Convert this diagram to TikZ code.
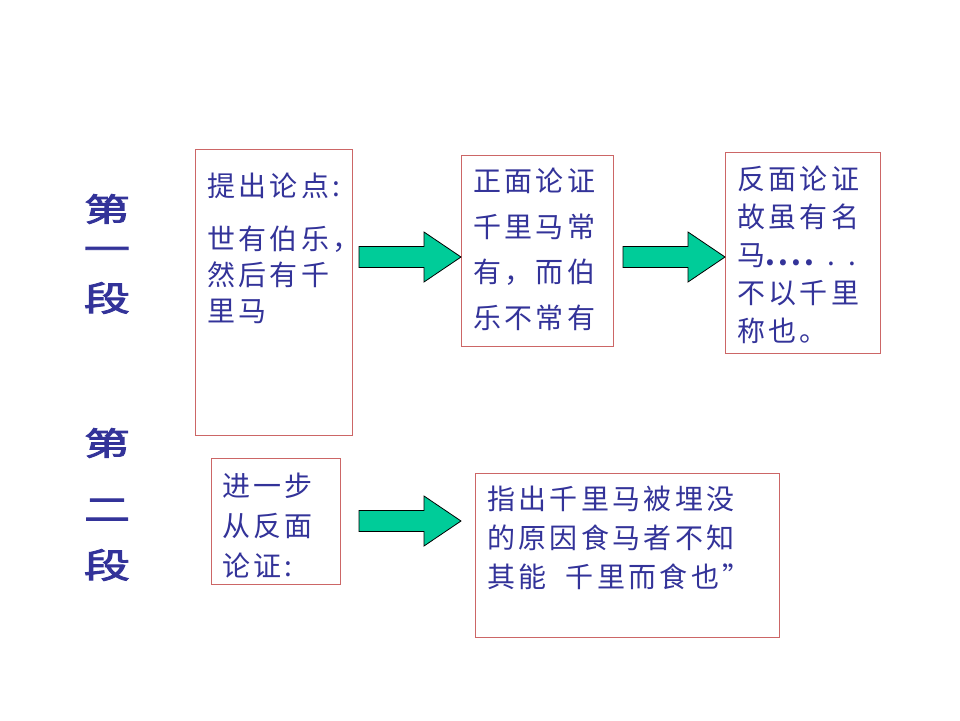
\documentclass[tikz,border=0pt]{standalone}
\usepackage{fontspec}
\newfontfamily\cjk[LetterSpace=12]{Noto Sans CJK SC}
\newfontfamily\cjkbold[FakeBold=2.5]{Noto Sans CJK SC}
\definecolor{txtblue}{HTML}{333399}
\definecolor{boxred}{HTML}{CC6666}
\definecolor{arrgreen}{HTML}{00CC99}
\tikzset{
  box/.style={draw=boxred, line width=1pt, inner sep=0pt, anchor=north west},
  body/.style={anchor=north west, inner sep=0pt, align=left, text=txtblue, font=\cjk\fontsize{28}{#1}\selectfont},
  seg/.style={text=txtblue, inner sep=0pt, font=\cjkbold\fontsize{40}{40}\selectfont},
  arrowfill/.style={fill=arrgreen, draw=black, line width=0.8pt, line join=miter},
  bigarrow/.pic={\draw[arrowfill] (0,-10.5) -- (65,-10.5) -- (65,-25) -- (102,0) -- (65,25) -- (65,10.5) -- (0,10.5) -- cycle;}
}
\begin{document}
\begin{tikzpicture}[x=1pt,y=-1pt]
\fill[white] (0,0) rectangle (960,720);
\useasboundingbox (0,0) rectangle (960,720);

% section labels
\node[seg] (s1a) at (107,209) {\scalebox{1.15}[0.8]{第}};
\node[seg] (s1b) at (107,254) {\scalebox{1.15}[0.8]{一}};
\node[seg] (s1c) at (107,298) {\scalebox{1.15}[0.85]{段}};
\node[seg] (s2a) at (107,443) {\scalebox{1.15}[0.8]{第}};
\node[seg] (s2b) at (107,510) {\scalebox{1.15}[0.8]{二}};
\node[seg] (s2c) at (107,565) {\scalebox{1.15}[0.85]{段}};

% boxes
\node[box, minimum width=157pt, minimum height=286pt] (b1) at (195,149) {};
\node[box, minimum width=152pt, minimum height=191pt] (b2) at (461,155) {};
\node[box, minimum width=155pt, minimum height=201pt] (b3) at (725,152) {};
\node[box, minimum width=129pt, minimum height=126pt] (b4) at (211,458) {};
\node[box, minimum width=304pt, minimum height=164pt] (b5) at (475,473) {};

% texts
\node[body=36] (t1) at (207,173) {提出论点:\\[17pt]世有伯乐，\\然后有千\\里马};
\node[body=45.5] (t2) at (473,168) {正面论证\\千里马常\\有，而伯\\乐不常有};
\node[body=38] (t3) at (737,166) {反面论证\\故虽有名\\马{\bfseries....} . .\\不以千里\\称也。};
\node[body=40] (t4) at (222,473) {进一步\\从反面\\论证:};
\node[body=39] (t5) at (487,486) {指出千里马被埋没\\的原因食马者不知\\其能\ \ 千里而食也”};

% block arrows
\pic (a1) at (359,257) {bigarrow};
\pic (a2) at (623,257) {bigarrow};
\pic (a3) at (359,521) {bigarrow};
\end{tikzpicture}
\end{document}
